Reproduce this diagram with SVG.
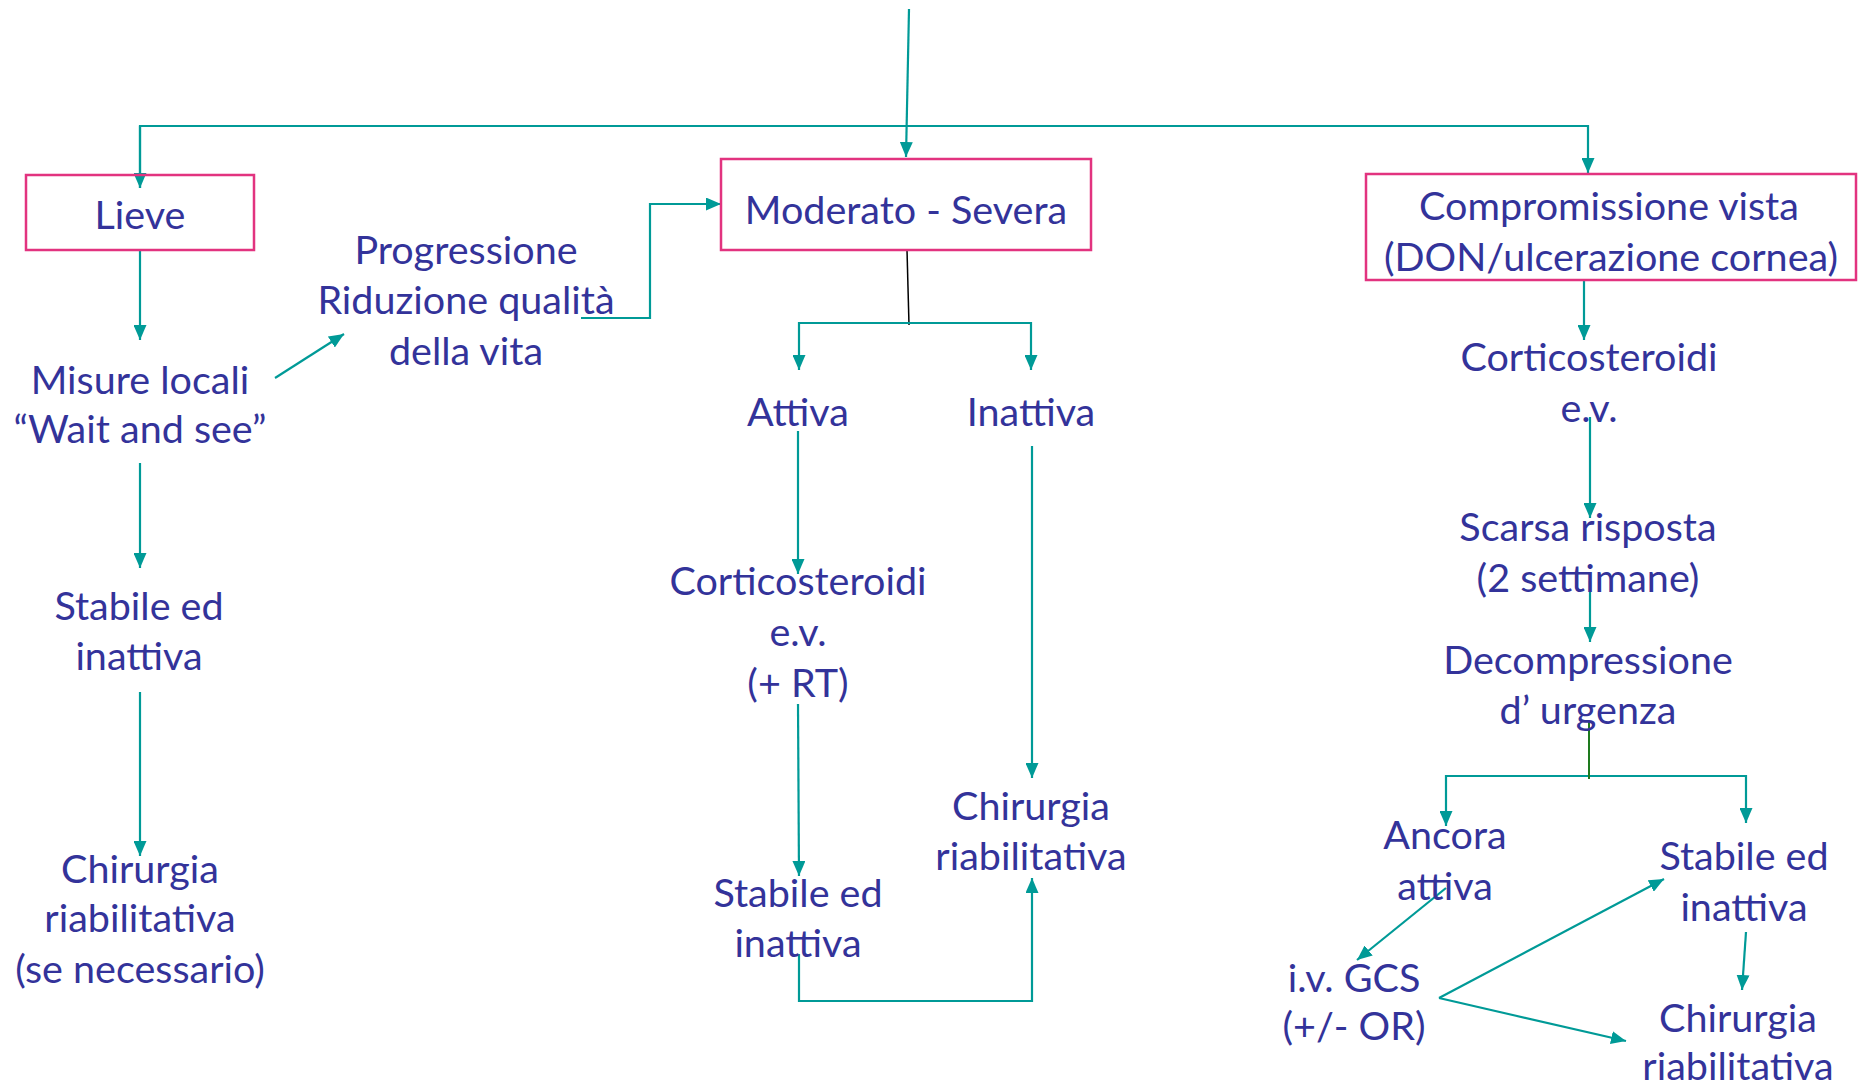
<svg xmlns="http://www.w3.org/2000/svg" width="1858" height="1084" viewBox="0 0 1858 1084">
<style>
.t{font-family:Lato,"Open Sans","DejaVu Sans",sans-serif;font-size:39.5px;fill:#33339a;text-anchor:middle}
.box{fill:none;stroke:#e2337f;stroke-width:2.5}
.c{fill:none;stroke:#009a97;stroke-width:2.2}
.k{fill:none;stroke:#000;stroke-width:1.5}
.g{fill:none;stroke:#1e7a1e;stroke-width:2}
</style>
<defs>
<marker id="ah" viewBox="0 0 12 12" refX="12" refY="6" markerWidth="15" markerHeight="13" markerUnits="userSpaceOnUse" orient="auto" preserveAspectRatio="none">
<path d="M0,0 L12,6 L0,12 z" fill="#009a97"/>
</marker>
</defs>
<rect width="1858" height="1084" fill="#fff"/>
<g id="connectors">
<path class="c" d="M909,9 L906,157" marker-end="url(#ah)"/>
<path class="c" d="M140,188 V126 H1588 V173" marker-end="url(#ah)"/>
<path class="c" d="M140,126 V188" marker-end="url(#ah)"/>
<path class="c" d="M140,250 V340" marker-end="url(#ah)"/>
<path class="c" d="M275,378 L344,334" marker-end="url(#ah)"/>
<path class="c" d="M581,318 H650 V204 H721" marker-end="url(#ah)"/>
<path class="k" d="M907,250 L909,325"/>
<path class="c" d="M909,323 H799 V370" marker-end="url(#ah)"/>
<path class="c" d="M909,323 H1031 V370" marker-end="url(#ah)"/>
<path class="c" d="M140,463 V568" marker-end="url(#ah)"/>
<path class="c" d="M140,692 V856" marker-end="url(#ah)"/>
<path class="c" d="M798,431 V574" marker-end="url(#ah)"/>
<path class="c" d="M798,704 L799,876" marker-end="url(#ah)"/>
<path class="c" d="M1032,446 V778" marker-end="url(#ah)"/>
<path class="c" d="M799,954 V1001 H1032 V878" marker-end="url(#ah)"/>
<path class="c" d="M1584,280 V340" marker-end="url(#ah)"/>
<path class="c" d="M1590,417 V518" marker-end="url(#ah)"/>
<path class="c" d="M1590,581 V642" marker-end="url(#ah)"/>
<path class="c" d="M1590,776 H1446 V826" marker-end="url(#ah)"/>
<path class="c" d="M1590,776 H1746 V823" marker-end="url(#ah)"/>
<path class="g" d="M1589,721 V779"/>
<path class="c" d="M1446,888 L1357,960" marker-end="url(#ah)"/>
<path class="c" d="M1439,998 L1664,879" marker-end="url(#ah)"/>
<path class="c" d="M1439,998 L1626,1041" marker-end="url(#ah)"/>
<path class="c" d="M1746,932 L1742,990" marker-end="url(#ah)"/>
</g>
<g id="n-lieve"><rect class="box" x="26" y="175" width="228" height="75"/><text class="t" x="140" y="229">Lieve</text></g>
<g id="n-moderato"><rect class="box" x="721" y="159" width="370" height="91"/><text class="t" x="906" y="224">Moderato - Severa</text></g>
<g id="n-compromissione"><rect class="box" x="1366" y="174" width="490" height="106"/><text class="t" x="1609" y="220">Compromissione vista</text><text class="t" x="1611" y="271">(DON/ulcerazione cornea)</text></g>
<g id="n-progressione"><text class="t" x="466" y="264">Progressione</text><text class="t" x="466" y="314">Riduzione qualità</text><text class="t" x="466" y="365">della vita</text></g>
<g id="n-misure"><text class="t" x="140" y="394">Misure locali</text><text class="t" x="140" y="443">“Wait and see”</text></g>
<g id="n-stabile1"><text class="t" x="139" y="620">Stabile ed</text><text class="t" x="139" y="670">inattiva</text></g>
<g id="n-chirurgia1"><text class="t" x="140" y="883">Chirurgia</text><text class="t" x="140" y="932">riabilitativa</text><text class="t" x="140" y="983">(se necessario)</text></g>
<g id="n-attiva"><text class="t" x="798" y="426">Attiva</text></g>
<g id="n-inattiva"><text class="t" x="1031" y="426">Inattiva</text></g>
<g id="n-cortico1"><text class="t" x="798" y="595">Corticosteroidi</text><text class="t" x="798" y="646">e.v.</text><text class="t" x="798" y="697">(+ RT)</text></g>
<g id="n-stabile2"><text class="t" x="798" y="907">Stabile ed</text><text class="t" x="798" y="957">inattiva</text></g>
<g id="n-chirurgia2"><text class="t" x="1031" y="820">Chirurgia</text><text class="t" x="1031" y="870">riabilitativa</text></g>
<g id="n-cortico2"><text class="t" x="1589" y="371">Corticosteroidi</text><text class="t" x="1589" y="422">e.v.</text></g>
<g id="n-scarsa"><text class="t" x="1588" y="541">Scarsa risposta</text><text class="t" x="1588" y="592">(2 settimane)</text></g>
<g id="n-decompressione"><text class="t" x="1588" y="674">Decompressione</text><text class="t" x="1588" y="724">d’ urgenza</text></g>
<g id="n-ancora"><text class="t" x="1445" y="849">Ancora</text><text class="t" x="1445" y="900">attiva</text></g>
<g id="n-stabile3"><text class="t" x="1744" y="870">Stabile ed</text><text class="t" x="1744" y="921">inattiva</text></g>
<g id="n-ivgcs"><text class="t" x="1354" y="992">i.v. GCS</text><text class="t" x="1354" y="1040">(+/- OR)</text></g>
<g id="n-chirurgia3"><text class="t" x="1738" y="1032">Chirurgia</text><text class="t" x="1738" y="1080">riabilitativa</text></g>
</svg>
